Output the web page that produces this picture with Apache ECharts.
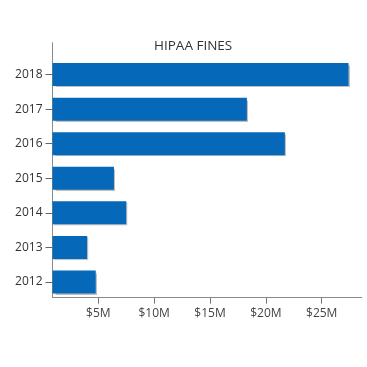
<!DOCTYPE html>
<html>
<head>
<meta charset="utf-8">
<script src="https://cdn.jsdelivr.net/npm/echarts@6/dist/echarts.min.js"></script>
<style>html,body{margin:0;padding:0;background:#fff}#c{width:367px;height:367px}</style>
</head>
<body>
<div id="c"></div>
<script>
const years = ['2012','2013','2014','2015','2016','2017','2018'];
const fines = [4.77, 4.0, 7.5, 6.4, 21.7, 18.3, 27.4]; // $ millions
const tickValues = [5, 10, 15, 20, 25];
const title = 'HIPAA FINES';

const font = 'Open Sans';
const xMin = 0.9, xMax = 28.58;
const chart = echarts.init(document.getElementById('c'));
chart.setOption({
  animation: false,
  title: {
    text: title, left: 154, top: 39, padding: 0,
    textStyle: {fontFamily: font, fontSize: 13.5, fontWeight: 'normal', color: '#333'}
  },
  grid: [
    {left: 52.5, right: 5.3, top: 57.3, bottom: 67.7},
    {left: 52.5, right: 5.3, top: 42.7, bottom: 69.3}
  ],
  xAxis: [
    {gridIndex: 0, type: 'value', min: xMin, max: xMax, show: false, splitLine: {show: false}},
    {gridIndex: 1, type: 'value', min: xMin, max: xMax,
     axisLine: {show: true, lineStyle: {color: '#8a8a8a', width: 1}},
     axisTick: {show: true, length: 6, lineStyle: {color: '#777'}, customValues: tickValues},
     axisLabel: {customValues: tickValues, margin: 10, color: '#444', fontFamily: font, fontSize: 12,
                 formatter: v => '$' + v + 'M'},
     splitLine: {show: false}}
  ],
  yAxis: [
    {gridIndex: 0, type: 'category', data: years,
     axisLine: {show: false},
     axisTick: {show: true, alignWithLabel: true, length: 7, lineStyle: {color: '#666'}},
     axisLabel: {margin: 10, color: '#333', fontFamily: font, fontSize: 12}},
    {gridIndex: 1, type: 'value', min: 0, max: 1,
     axisLine: {show: true, lineStyle: {color: '#8a8a8a', width: 1}},
     axisTick: {show: false}, axisLabel: {show: false}, splitLine: {show: false}}
  ],
  series: [{
    type: 'bar', xAxisIndex: 0, yAxisIndex: 0,
    data: fines, barWidth: 23,
    itemStyle: {color: '#0568b8', shadowColor: 'rgba(0,0,0,0.25)', shadowBlur: 1, shadowOffsetX: 1, shadowOffsetY: 1}
  }]
});
</script>
</body>
</html>
